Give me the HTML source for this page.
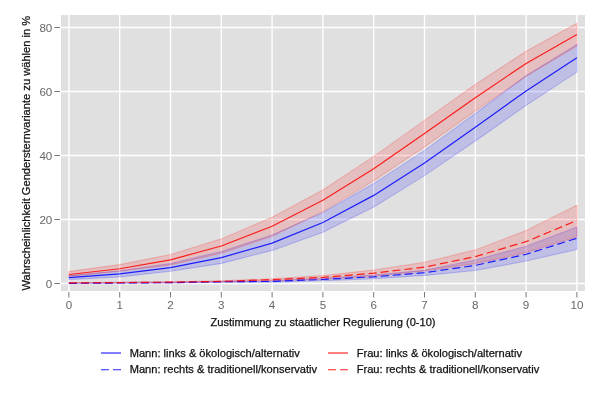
<!DOCTYPE html>
<html><head><meta charset="utf-8"><style>
html,body{margin:0;padding:0;background:#fff;width:600px;height:400px;overflow:hidden}
svg{display:block}
</style></head><body>
<svg width="600" height="400" viewBox="0 0 600 400">
<defs><filter id="soft" x="-5%" y="-5%" width="110%" height="110%"><feGaussianBlur stdDeviation="0.3"/></filter></defs>
<rect x="0" y="0" width="600" height="400" fill="#fff"/>
<rect x="61" y="15" width="524" height="276" fill="#E0E0E0"/>
<g stroke="#fff" stroke-width="1.4"><line x1="68.90" y1="15" x2="68.90" y2="291" /><line x1="119.70" y1="15" x2="119.70" y2="291" /><line x1="170.50" y1="15" x2="170.50" y2="291" /><line x1="221.30" y1="15" x2="221.30" y2="291" /><line x1="272.10" y1="15" x2="272.10" y2="291" /><line x1="322.90" y1="15" x2="322.90" y2="291" /><line x1="373.70" y1="15" x2="373.70" y2="291" /><line x1="424.50" y1="15" x2="424.50" y2="291" /><line x1="475.30" y1="15" x2="475.30" y2="291" /><line x1="526.10" y1="15" x2="526.10" y2="291" /><line x1="576.90" y1="15" x2="576.90" y2="291" /><line x1="61" y1="283.50" x2="585" y2="283.50" /><line x1="61" y1="219.50" x2="585" y2="219.50" /><line x1="61" y1="155.50" x2="585" y2="155.50" /><line x1="61" y1="91.50" x2="585" y2="91.50" /><line x1="61" y1="27.50" x2="585" y2="27.50" /></g>
<g stroke-width="1.1" stroke-linejoin="round" filter="url(#soft)">
<polygon points="68.90,275.60 119.70,270.80 170.50,263.50 221.30,251.50 272.10,235.00 322.90,212.40 373.70,183.60 424.50,150.40 475.30,113.50 526.10,75.80 576.90,44.40 576.90,72.10 526.10,105.40 475.30,141.00 424.50,175.60 373.70,207.00 322.90,232.20 272.10,250.40 221.30,263.40 170.50,271.20 119.70,276.90 68.90,279.60" fill="rgba(0,0,255,0.15)" stroke="rgba(0,0,255,0.2)"/>
<polygon points="68.90,282.90 119.70,282.40 170.50,282.00 221.30,281.30 272.10,280.70 322.90,278.20 373.70,275.00 424.50,270.30 475.30,260.00 526.10,246.30 576.90,227.00 576.90,249.50 526.10,261.00 475.30,270.50 424.50,275.40 373.70,278.80 322.90,280.80 272.10,282.10 221.30,282.30 170.50,283.00 119.70,283.30 68.90,283.60" fill="rgba(0,0,255,0.15)" stroke="rgba(0,0,255,0.2)"/>
<polygon points="68.90,271.60 119.70,264.60 170.50,254.50 221.30,238.90 272.10,217.30 322.90,190.00 373.70,156.40 424.50,120.40 475.30,84.50 526.10,51.20 576.90,23.20 576.90,46.00 526.10,76.20 475.30,111.00 424.50,147.00 373.70,180.80 322.90,211.60 272.10,236.30 221.30,253.30 170.50,264.90 119.70,271.30 68.90,276.40" fill="rgba(255,0,0,0.15)" stroke="rgba(255,0,0,0.2)"/>
<polygon points="68.90,282.60 119.70,282.20 170.50,281.70 221.30,280.80 272.10,278.70 322.90,275.60 373.70,270.00 424.50,262.20 475.30,249.90 526.10,230.50 576.90,205.20 576.90,236.70 526.10,252.60 475.30,263.60 424.50,270.90 373.70,276.20 322.90,279.30 272.10,280.60 221.30,282.00 170.50,282.60 119.70,282.90 68.90,283.30" fill="rgba(255,0,0,0.15)" stroke="rgba(255,0,0,0.2)"/>
</g>
<g fill="none" stroke-width="1.2" stroke-opacity="0.85" filter="url(#soft)" stroke-linejoin="round">
<polyline points="68.90,277.60 119.70,273.80 170.50,267.60 221.30,257.60 272.10,243.10 322.90,222.50 373.70,195.40 424.50,163.00 475.30,127.20 526.10,91.00 576.90,57.70" stroke="#0000FF"/>
<polyline points="68.90,283.35 119.70,283.00 170.50,282.65 221.30,281.80 272.10,281.40 322.90,279.50 373.70,276.80 424.50,272.70 475.30,265.40 526.10,254.30 576.90,238.20" stroke="#0000FF" stroke-dasharray="8 4"/>
<polyline points="68.90,274.50 119.70,268.75 170.50,259.80 221.30,246.00 272.10,226.30 322.90,200.25 373.70,168.70 424.50,133.60 475.30,97.80 526.10,63.40 576.90,34.40" stroke="#FF0000"/>
<polyline points="68.90,282.95 119.70,282.55 170.50,282.15 221.30,281.40 272.10,279.60 322.90,277.45 373.70,273.20 424.50,267.10 475.30,256.60 526.10,241.60 576.90,220.50" stroke="#FF0000" stroke-dasharray="8 4"/>
</g>
<g stroke="#7a7a7a" stroke-width="1"><line x1="68.90" y1="292" x2="68.90" y2="297.5" /><line x1="119.70" y1="292" x2="119.70" y2="297.5" /><line x1="170.50" y1="292" x2="170.50" y2="297.5" /><line x1="221.30" y1="292" x2="221.30" y2="297.5" /><line x1="272.10" y1="292" x2="272.10" y2="297.5" /><line x1="322.90" y1="292" x2="322.90" y2="297.5" /><line x1="373.70" y1="292" x2="373.70" y2="297.5" /><line x1="424.50" y1="292" x2="424.50" y2="297.5" /><line x1="475.30" y1="292" x2="475.30" y2="297.5" /><line x1="526.10" y1="292" x2="526.10" y2="297.5" /><line x1="576.90" y1="292" x2="576.90" y2="297.5" /><line x1="54.5" y1="283.50" x2="60" y2="283.50" /><line x1="54.5" y1="219.50" x2="60" y2="219.50" /><line x1="54.5" y1="155.50" x2="60" y2="155.50" /><line x1="54.5" y1="91.50" x2="60" y2="91.50" /><line x1="54.5" y1="27.50" x2="60" y2="27.50" /></g>
<g font-family="'Liberation Sans', Arial, sans-serif" font-size="11.6" fill="#666">
<text x="68.90" y="308.9" text-anchor="middle">0</text><text x="119.70" y="308.9" text-anchor="middle">1</text><text x="170.50" y="308.9" text-anchor="middle">2</text><text x="221.30" y="308.9" text-anchor="middle">3</text><text x="272.10" y="308.9" text-anchor="middle">4</text><text x="322.90" y="308.9" text-anchor="middle">5</text><text x="373.70" y="308.9" text-anchor="middle">6</text><text x="424.50" y="308.9" text-anchor="middle">7</text><text x="475.30" y="308.9" text-anchor="middle">8</text><text x="526.10" y="308.9" text-anchor="middle">9</text><text x="576.90" y="308.9" text-anchor="middle">10</text>
<text x="52.3" y="287.50" text-anchor="end">0</text><text x="52.3" y="223.50" text-anchor="end">20</text><text x="52.3" y="159.50" text-anchor="end">40</text><text x="52.3" y="95.50" text-anchor="end">60</text><text x="52.3" y="31.50" text-anchor="end">80</text>
</g>
<g font-family="'Liberation Sans', Arial, sans-serif" font-size="11.1" fill="#111" stroke="#111" stroke-width="0.25">
<text x="323" y="325.8" text-anchor="middle">Zustimmung zu staatlicher Regulierung (0-10)</text>
<text transform="translate(29.7,153.2) rotate(-90)" text-anchor="middle" font-size="11.13">Wahrscheinlichkeit Gendersternvariante zu wählen in %</text>
<text x="129.7" y="356.8">Mann: links &amp; ökologisch/alternativ</text>
<text x="129.7" y="372.8">Mann: rechts &amp; traditionell/konservativ</text>
<text x="356.7" y="356.8">Frau: links &amp; ökologisch/alternativ</text>
<text x="356.7" y="372.8">Frau: rechts &amp; traditionell/konservativ</text>
</g>
<g stroke-width="1">
<line x1="101" y1="353" x2="121" y2="353" stroke="#0000FF"/>
<line x1="101" y1="369.75" x2="121" y2="369.75" stroke="#0000FF" stroke-opacity="0.85" stroke-dasharray="8 4"/>
<line x1="328" y1="353" x2="348" y2="353" stroke="#FF0000"/>
<line x1="328" y1="369.75" x2="348" y2="369.75" stroke="#FF0000" stroke-opacity="0.85" stroke-dasharray="8 4"/>
</g>
</svg>
</body></html>
